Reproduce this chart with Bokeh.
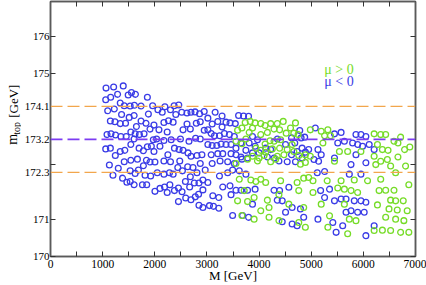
import math
from bokeh.plotting import figure
from bokeh.layouts import row
from bokeh.models import (Range1d, LinearAxis, FixedTicker, Span, Label,
                          ColumnDataSource)
from bokeh.core.properties import value
from bokeh.embed import file_html
from bokeh.resources import INLINE

# ---------------- data ----------------
# (M [GeV], m_top [GeV]) for mu < 0 (blue)
blue_points = [
    (1065,174.60),(1211,174.63),(1395,174.66),(1287,174.43),(1154,174.35),(1059,174.28),
    (1490,174.41),(1553,174.48),(1629,174.43),(1858,174.35),(1338,174.19),(1414,174.12),
    (1528,174.11),(1610,174.13),(1737,174.11),(1959,174.12),(2194,174.09),(2371,174.12),
    (2460,174.14),(2301,174.01),(2060,174.01),(2143,173.94),(1097,173.98),(1224,174.03),
    (1363,173.88),(1509,173.80),(1604,173.85),(1877,173.89),(2403,173.88),(2517,173.94),
    (2618,173.92),(2694,173.94),(2771,173.95),(2859,173.90),(2948,173.96),(1148,173.70),
    (1236,173.68),(1338,173.63),(1439,173.64),(1648,173.55),(1737,173.70),(1832,173.64),
    (1984,173.59),(1908,173.48),(2175,173.66),(2263,173.71),(2352,173.67),(2618,173.62),
    (2796,173.64),(2872,173.68),(2080,173.46),(2238,173.40),(2542,173.46),(2682,173.48),
    (2948,173.45),(1084,173.33),(1160,173.35),(1249,173.32),(1350,173.28),(1452,173.28),
    (1541,173.40),(1623,173.35),(1705,173.33),(1794,173.35),(1604,173.21),(1972,173.19),
    (2035,173.21),(2175,173.17),(2314,173.19),(2492,173.21),(2656,173.15),(2783,173.23),
    (2872,173.21),(1059,172.94),(1148,172.96),(1338,172.87),(1426,172.90),(1243,172.76),
    (1541,173.06),(1699,172.96),(1782,172.89),(1858,173.00),(1934,173.01),(1984,172.87),
    (2099,173.01),(2251,172.78),(2377,172.96),(2466,172.92),(2542,172.90),(2694,172.74),
    (2809,172.76),(2904,172.78),(2637,172.83),
    (1129,172.50),(1300,172.41),(1414,172.59),(1541,172.63),(1667,172.66),(1839,172.63),
    (1908,172.58),(2003,172.58),(2175,172.61),(2301,172.59),(2479,172.61),(2872,172.54),
    (1198,172.22),(1382,172.14),(1465,172.03),(1528,172.05),(1604,171.96),(1528,172.34),
    (1623,172.27),(1686,172.36),(1782,172.48),(1813,172.22),(1921,172.20),(2048,172.29),
    (2175,172.25),(2282,172.29),(2352,172.25),(2441,172.43),(2530,172.34),(2631,172.45),
    (2733,172.43),(2809,172.29),(2967,172.36),(1763,171.96),(1845,171.96),(2003,171.78),
    (2099,171.86),(2187,171.90),(2289,171.96),(2238,171.75),(2377,171.80),(2454,171.87),
    (2523,171.77),(2587,172.05),(2682,172.18),(2669,171.90),(2758,172.01),(2847,172.01),
    (2923,172.09),(2454,171.50),(2593,171.60),(2694,171.55),(2777,171.63),(2840,171.70),
    (2923,171.82),(2847,171.40),(2923,171.34),
    (3157,173.94),(3290,173.84),(3018,173.78),(3208,173.69),(3100,173.62),(3366,173.67),
    (3442,173.65),(3544,173.63),(3607,173.85),(3702,173.84),(3798,173.83),(3018,173.46),
    (3081,173.36),(3145,173.30),(3240,173.30),(3335,173.36),(3430,173.33),(3525,173.28),
    (3290,173.54),(3874,173.28),(3969,173.19),(3018,173.06),(3100,173.03),(3189,173.03),
    (3271,173.07),(3366,173.06),(3462,173.06),(3557,172.96),(3652,173.10),(3810,173.10),
    (3924,173.01),(3747,172.90),(3874,172.83),(4000,172.83),(4127,172.96),(4222,172.92),
    (4286,172.69),(4159,172.72),(3081,172.78),(3208,172.81),(3303,172.81),(3462,172.81),
    (3557,172.78),(3652,172.72),(3779,172.69),(4349,173.21),(4508,173.06),(4622,173.24),
    (4685,173.10),(4780,173.44),(4806,173.24),(4875,173.26),(4730,172.87),(4825,172.96),
    (4888,172.85),(4951,172.92),(4622,172.78),(4825,172.69),
    (3100,172.54),(3252,172.61),(3398,172.59),(3525,172.54),(3671,172.66),(4381,172.61),
    (4539,172.59),(4698,172.59),(3240,172.20),(3398,172.29),(3493,172.36),(3620,172.34),
    (3747,172.25),(3018,172.02),(3303,171.90),(3442,171.93),(3557,171.81),(3652,171.81),
    (3779,171.81),(3924,171.84),(4286,171.81),(4393,171.80),(4571,171.89),(3113,171.66),
    (3227,171.61),(3462,171.69),(4349,171.54),(4444,171.52),(3049,171.39),(3125,171.37),
    (3227,171.32),(3874,171.43),(3493,171.12),(3683,171.12),(3798,171.07),(4444,170.95),
    (4634,170.89),(4730,170.84),(4856,171.07),(4508,171.21),(4793,171.30),(4634,171.34),
    (5078,173.51),(5446,173.35),(5573,173.39),(5858,173.33),(5953,173.33),(6048,173.28),
    (5509,173.10),(5636,173.15),(5794,173.10),(5890,173.06),(5985,173.01),(6112,173.06),
    (6207,172.92),(5129,172.92),(5192,172.78),(5446,172.69),(5858,172.78),(6048,172.56),
    (5053,172.65),(5141,172.60),(5763,172.51),
    (5116,172.29),(5256,172.32),(5731,172.25),(5953,172.25),(5180,171.80),(5351,171.84),
    (5256,171.61),(5446,171.52),(5573,171.57),(5668,171.57),(5826,171.52),(5953,171.52),
    (6048,171.48),(5668,171.21),(5763,171.25),(5890,171.21),(6016,171.21),(5129,171.02),
    (5414,170.93),(5604,170.84),(5478,170.66),(6048,170.57),(6207,170.84),
]

# (M [GeV], m_top [GeV]) for mu > 0 (green)
green_points = [
    (3734,173.66),(3829,173.69),(3924,173.65),(4032,173.63),(4115,173.58),(4222,173.63),
    (4349,173.63),(4463,173.69),(4698,173.65),(3588,173.45),(3671,173.51),(3810,173.39),
    (3874,173.51),(4032,173.33),(4159,173.39),(4286,173.48),(4393,173.46),(4520,173.37),
    (4603,173.51),(4666,173.37),(4749,173.33),(4983,173.46),(3557,173.15),(3671,173.08),
    (3747,173.21),(4115,173.07),(4210,173.16),(4286,173.15),(4413,173.19),(4634,173.06),
    (3937,172.96),(4032,172.90),(4127,172.85),(4254,172.94),(4393,172.96),(4539,172.92),
    (4666,172.87),(3874,172.74),(4000,172.69),(4096,172.76),(4349,172.74),(4476,172.78),
    (4761,172.76),(4888,172.78),(4983,172.74),
    (3557,172.54),(3779,172.66),(3969,172.61),(4222,172.59),(4317,172.66),(4793,172.52),
    (4888,172.57),(3620,172.11),(3842,172.09),(3937,172.05),(4032,172.11),(4127,172.02),
    (4413,172.07),(4730,172.02),(4856,172.14),(4951,172.16),(3715,171.80),(3905,171.61),
    (4159,171.54),(4381,171.69),(4761,171.80),(3588,171.52),(3779,171.50),(4032,171.25),
    (4191,171.34),(4571,171.43),(4856,171.34),(3671,171.12),(3905,171.02),(4191,171.07),
    (4381,170.98),(4761,170.93),(4888,170.80),
    (5192,173.42),(5319,173.46),(5256,173.30),(5370,173.30),(6207,173.35),(6333,173.33),
    (6428,173.33),(6714,173.26),(5224,173.10),(6270,173.06),(6365,172.92),(6473,172.90),
    (6587,173.15),(6663,173.10),(6790,172.92),(6891,172.99),(5541,172.87),(5699,172.87),
    (5953,172.87),(6207,172.74),(6333,172.60),(6460,172.65),(6663,172.72),(5446,172.60),
    (6238,172.51),(6523,172.47),(6809,172.47),
    (5034,172.07),(5306,172.07),(5573,172.07),(5826,172.09),(6080,172.07),(6333,172.11),
    (6619,172.29),(6872,171.96),(5034,171.75),(5509,171.87),(5636,171.84),(5763,171.80),
    (5890,171.75),(6302,171.80),(6428,171.81),(6587,171.81),(5192,171.43),(5636,171.43),
    (6270,171.41),(6523,171.54),(6619,171.52),(6765,171.52),(6492,171.30),(6650,171.27),
    (6841,171.25),(5351,171.11),(5731,171.02),(5858,170.98),(6428,171.07),(6619,171.02),
    (6777,170.98),(5319,170.80),(5699,170.62),(6207,170.71),(6365,170.72),(6523,170.71),
    (6714,170.66),(6872,170.66),
]

x_ticks = [0, 1000, 2000, 3000, 4000, 5000, 6000, 7000]
x_minor = [500, 1500, 2500, 3500, 4500, 5500, 6500]
y_ticks = [170, 171, 172.3, 173.2, 174.1, 175, 176]
y_minor = [172.5]
ref_lines = [172.3, 174.1]
central_line = 173.2
legend_texts = ["\u03bc > 0", "\u03bc < 0"]
x_title = "M [GeV]"
y_title_parts = ["m", "top", "[GeV]"]

# ---------------- styling ----------------
FONT = "Liberation Serif"
BLUE = "#3a3ce6"
GREEN = "#76dc28"
ORANGE = "#f2a64c"
VIOLET = "#7d3cf2"
FRAME = "#5a5a5a"

# main plot
p = figure(width=405, height=285, output_backend="svg", toolbar_location=None,
           x_range=Range1d(0, 7000), y_range=Range1d(170, 176.966),
           x_axis_location=None, y_axis_location=None,
           min_border_left=26, min_border_right=11, min_border_top=1,
           min_border_bottom=28)
p.xgrid.visible = False
p.ygrid.visible = False
p.outline_line_color = FRAME
p.outline_line_width = 1.5
p.background_fill_color = "white"
p.border_fill_color = "white"


def style_axis(ax, ticks, minor, labels=True):
    ax.ticker = FixedTicker(ticks=ticks, minor_ticks=minor)
    ax.axis_line_color = FRAME
    ax.axis_line_width = 1.5
    ax.major_tick_in = 5
    ax.major_tick_out = 0
    ax.minor_tick_in = 5
    ax.minor_tick_out = 0
    ax.major_tick_line_color = "#333333"
    ax.minor_tick_line_color = "#333333"
    ax.major_tick_line_width = 1
    ax.minor_tick_line_width = 1
    ax.major_label_text_font = FONT
    ax.major_label_text_font_size = "11px"
    ax.major_label_text_color = "black"
    if not labels:
        ax.major_label_overrides = {t: "" for t in ticks}
        ax.major_label_text_font_size = "0px"
        ax.major_label_standoff = 0


bottom = LinearAxis()
style_axis(bottom, x_ticks, x_minor)
bottom.major_label_text_font_size = "11.5px"
bottom.major_label_standoff = 3
bottom.major_label_overrides = {t: str(t) for t in x_ticks}
bottom.axis_label = x_title
bottom.axis_label_text_font = FONT
bottom.axis_label_text_font_size = "13px"
bottom.axis_label_text_font_style = "normal"
bottom.axis_label_text_color = "black"
bottom.axis_label_standoff = -3
p.add_layout(bottom, "below")

left = LinearAxis()
style_axis(left, y_ticks, y_minor)
left.major_label_standoff = 1
left.major_label_overrides = {t: (str(int(t)) if t == int(t) else str(t)) for t in y_ticks}
p.add_layout(left, "left")

top = LinearAxis()
style_axis(top, x_ticks, x_minor, labels=False)
p.add_layout(top, "above")

right = LinearAxis()
style_axis(right, y_ticks, y_minor, labels=False)
p.add_layout(right, "right")

for v in ref_lines:
    p.add_layout(Span(location=v, dimension="width", line_color=ORANGE,
                      line_width=1.2, line_dash="12 5"))
p.add_layout(Span(location=central_line, dimension="width", line_color=VIOLET,
                  line_width=1.6, line_dash="12 5"))

bsrc = ColumnDataSource(dict(x=[a for a, _ in blue_points], y=[b for _, b in blue_points]))
gsrc = ColumnDataSource(dict(x=[a for a, _ in green_points], y=[b for _, b in green_points]))
p.scatter("x", "y", source=bsrc, marker="circle", size=5.8, fill_color=None,
          line_color=BLUE, line_width=1.3)
p.scatter("x", "y", source=gsrc, marker="circle", size=5.8, fill_color=None,
          line_color=GREEN, line_width=1.3)

# legend texts
p.add_layout(Label(x=5250, y=175.12, text=legend_texts[0], text_color=GREEN,
                   text_font=FONT, text_font_size="14px", text_align="left",
                   text_baseline="alphabetic"))
p.add_layout(Label(x=5250, y=174.77, text=legend_texts[1], text_color=BLUE,
                   text_font=FONT, text_font_size="14px", text_align="left",
                   text_baseline="alphabetic"))

# y-axis title panel (pixel coordinates, y measured from bottom)
yfig = figure(width=21, height=285, output_backend="svg", toolbar_location=None,
              x_range=Range1d(0, 21), y_range=Range1d(0, 285),
              x_axis_location=None, y_axis_location=None,
              min_border=0, min_border_left=0, min_border_right=0,
              min_border_top=0, min_border_bottom=0)
yfig.xgrid.visible = False
yfig.ygrid.visible = False
yfig.outline_line_color = None
yfig.border_fill_color = "white"
yfig.text(x=[12], y=[125], text=[y_title_parts[0]], angle=math.pi / 2,
          text_font=value(FONT), text_font_size="14px", text_align="left",
          text_baseline="alphabetic", text_color="black")
yfig.text(x=[15.5], y=[136], text=[y_title_parts[1]], angle=math.pi / 2,
          text_font=value(FONT), text_font_size="10px", text_align="left",
          text_baseline="alphabetic", text_color="black")
yfig.text(x=[12.5], y=[155], text=[y_title_parts[2]], angle=math.pi / 2,
          text_font=value(FONT), text_font_size="13px", text_align="left",
          text_baseline="alphabetic", text_color="black")

layout = row(yfig, p, spacing=0)
open("out.html", "w").write(file_html(layout, INLINE))
